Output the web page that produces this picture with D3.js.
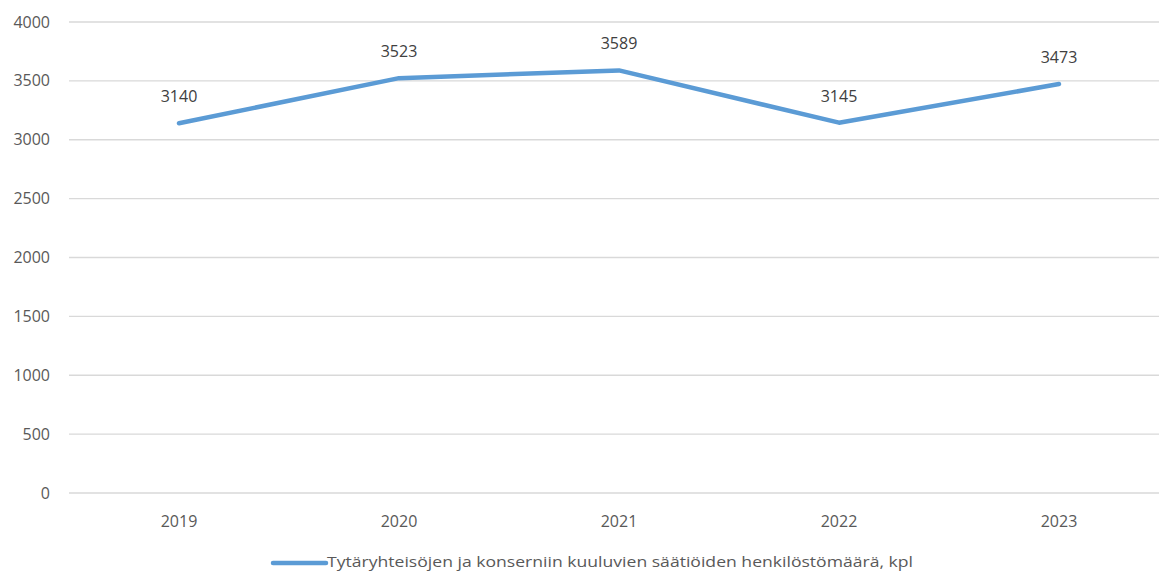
<!DOCTYPE html>
<html>
<head>
<meta charset="utf-8">
<script src="https://cdn.jsdelivr.net/npm/d3@7"></script>
<style>
  body { margin: 0; background: #fff; }
  text { font-family: "Open Sans", "DejaVu Sans", sans-serif; }
</style>
</head>
<body>
<script>
var years = ["2019", "2020", "2021", "2022", "2023"];
var values = [3140, 3523, 3589, 3145, 3473];
var yTicks = [0, 500, 1000, 1500, 2000, 2500, 3000, 3500, 4000];
var seriesName = "Tytäryhteisöjen ja konserniin kuuluvien säätiöiden henkilöstömäärä, kpl";

var width = 1159, height = 572;
var plotLeft = 69, plotRight = 1169, plotTop = 22, plotBottom = 493;

var svg = d3.select("body").append("svg")
    .attr("width", width)
    .attr("height", height);

var x = d3.scaleBand().domain(years).range([plotLeft, plotRight]);
var y = d3.scaleLinear().domain([0, 4000]).range([plotBottom, plotTop]);

// gridlines
svg.selectAll(".grid")
    .data(yTicks)
  .enter().append("line")
    .attr("x1", plotLeft).attr("x2", width)
    .attr("y1", function(d) { return y(d); })
    .attr("y2", function(d) { return y(d); })
    .style("stroke", "#d9d9d9")
    .style("stroke-width", 1.3);

// y labels
svg.selectAll(".ylab")
    .data(yTicks)
  .enter().append("text")
    .attr("x", 50)
    .attr("y", function(d) { return y(d); })
    .attr("dy", "0.35em")
    .attr("text-anchor", "end")
    .style("font-size", "16px")
    .style("fill", "#595959")
    .text(function(d) { return d; });

// x labels
svg.selectAll(".xlab")
    .data(years)
  .enter().append("text")
    .attr("x", function(d) { return x(d) + x.bandwidth() / 2; })
    .attr("y", plotBottom + 34)
    .attr("text-anchor", "middle")
    .style("font-size", "16px")
    .style("fill", "#595959")
    .text(function(d) { return d; });

var line = d3.line()
    .x(function(d, i) { return x(years[i]) + x.bandwidth() / 2; })
    .y(function(d) { return y(d); });

svg.append("path")
    .datum(values)
    .attr("d", line)
    .style("fill", "none")
    .style("stroke", "#5b9bd5")
    .style("stroke-width", 4.5)
    .style("stroke-linecap", "round")
    .style("stroke-linejoin", "round");

// value labels
svg.selectAll(".vlab")
    .data(values)
  .enter().append("text")
    .attr("x", function(d, i) { return x(years[i]) + x.bandwidth() / 2; })
    .attr("y", function(d) { return y(d) - 21; })
    .attr("text-anchor", "middle")
    .style("font-size", "16px")
    .style("fill", "#404040")
    .text(function(d) { return d; });

// legend
svg.append("line")
    .attr("x1", 273).attr("x2", 326)
    .attr("y1", 563).attr("y2", 563)
    .style("stroke", "#5b9bd5")
    .style("stroke-width", 4.5)
    .style("stroke-linecap", "round");

svg.append("text")
    .attr("x", 327)
    .attr("y", 567)
    .attr("textLength", 586)
    .attr("lengthAdjust", "spacingAndGlyphs")
    .style("font-size", "15px")
    .style("fill", "#595959")
    .text(seriesName);
</script>
</body>
</html>
